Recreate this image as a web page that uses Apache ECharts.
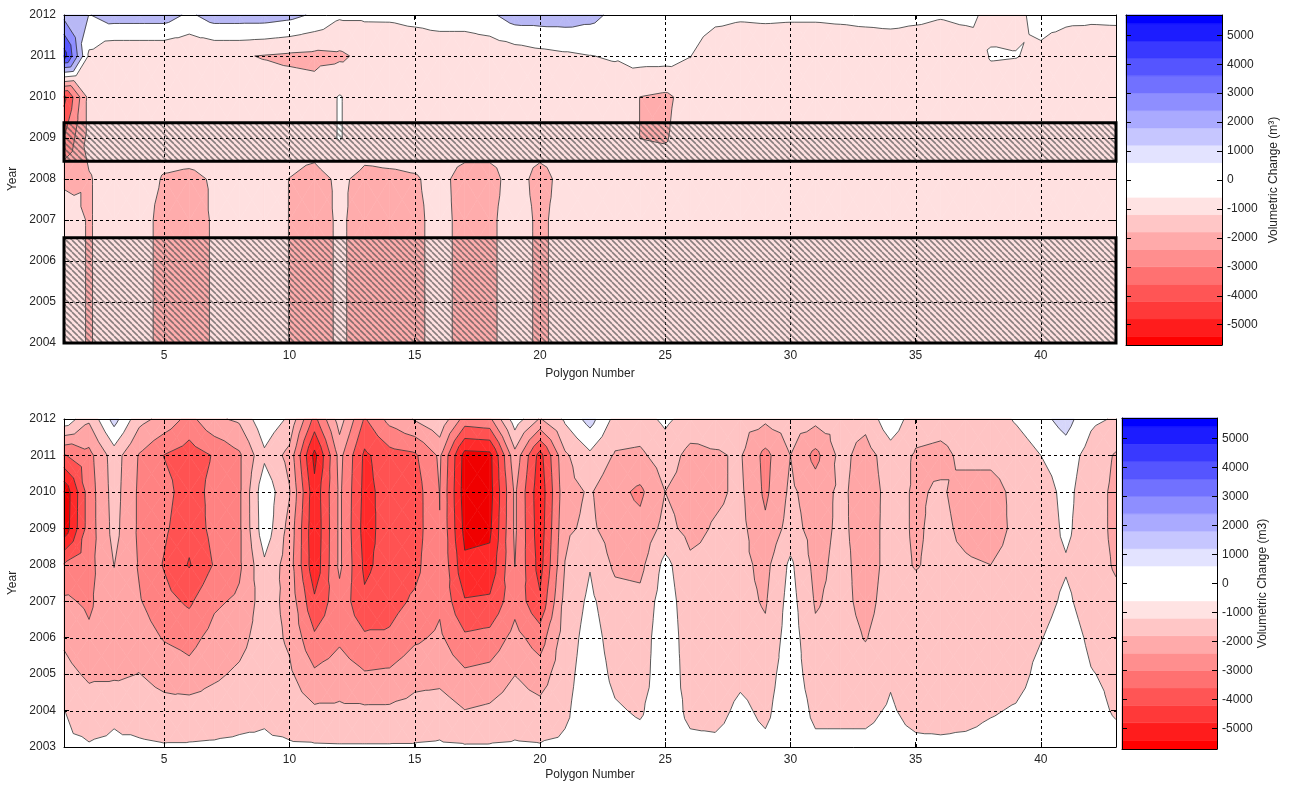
<!DOCTYPE html>
<html>
<head>
<meta charset="utf-8">
<script src="https://cdn.jsdelivr.net/npm/echarts@6/dist/echarts.min.js"></script>
<style>
  html, body { margin: 0; padding: 0; background: #ffffff; }
  #chart { width: 1290px; height: 787px; }
</style>
</head>
<body>
<div id="chart"></div>
<script>
// ---- Data -------------------------------------------------------------
const polygonNumbers = [1,2,3,4,5,6,7,8,9,10,11,12,13,14,15,16,17,18,19,20,21,22,23,24,25,26,27,28,29,30,31,32,33,34,35,36,37,38,39,40,41,42,43];

// Upper panel: volumetric change (m3) per polygon, one array per year
const upperYears = [2004, 2005, 2006, 2007, 2008, 2009, 2010, 2011, 2012];
const upper2004 = [-500,-1080,-500,-580,-1330,-1330,-920,-500,-500,-1020,-1500,-830,-1420,-1420,-1170,-750,-1250,-1170,-580,-1170,-670,-500,-480,-500,-520,-500,-490,-500,-510,-500,-480,-500,-500,-520,-500,-490,-500,-500,-510,-500,-480,-500,-500];
const upper2005 = [-500,-1080,-500,-580,-1330,-1330,-920,-500,-500,-1020,-1500,-830,-1420,-1420,-1170,-750,-1250,-1170,-580,-1170,-670,-500,-480,-500,-520,-500,-490,-500,-510,-500,-480,-500,-500,-520,-500,-490,-500,-500,-510,-500,-480,-500,-500];
const upper2006 = [-500,-1080,-500,-580,-1330,-1330,-920,-500,-500,-1020,-1500,-830,-1420,-1420,-1170,-750,-1250,-1170,-580,-1170,-670,-500,-480,-500,-520,-500,-490,-500,-510,-500,-480,-500,-500,-520,-500,-490,-500,-500,-510,-500,-480,-500,-500];
const upper2007 = [-500,-1080,-500,-580,-1330,-1330,-920,-500,-500,-1020,-1500,-830,-1420,-1420,-1170,-750,-1250,-1170,-580,-1170,-670,-500,-480,-500,-520,-500,-490,-500,-510,-500,-480,-500,-500,-520,-500,-490,-500,-500,-510,-500,-480,-500,-500];
const upper2008 = [-1170,-1080,-500,-580,-1080,-1170,-920,-500,-500,-1020,-1330,-830,-1250,-1170,-1080,-750,-1330,-1330,-580,-1330,-670,-500,-480,-500,-520,-500,-490,-500,-510,-500,-480,-500,-500,-520,-500,-490,-500,-500,-510,-500,-480,-500,-500];
const upper2009 = [-3000,-670,-500,-500,-500,-500,-500,-500,-500,-500,-500,60,-500,-500,-500,-500,-500,-500,-500,-500,-500,-500,-500,-1010,-1080,-500,-500,-500,-500,-500,-500,-500,-500,-500,-500,-500,-500,-500,-500,-500,-500,-500,-500];
const upper2010 = [-4300,-670,-500,-500,-500,-500,-500,-500,-500,-500,-580,60,-500,-500,-500,-500,-500,-500,-500,-500,-500,-500,-500,-1010,-1170,-670,-500,-500,-500,-500,-500,-500,-500,-500,-500,-500,-500,-500,-500,-500,-500,-500,-500];
const upper2011 = [4500,-170,-920,-920,-920,-920,-920,-920,-1050,-1170,-1250,-1170,-750,-750,-750,-750,-750,-750,-580,-330,-170,-20,80,380,380,30,-750,-750,-750,-750,-750,-750,-750,-750,-750,-750,-750,70,30,-170,-500,-670,-670];
const upper2012 = [1670,960,1500,1500,1500,800,1500,1500,1500,1300,850,150,150,160,310,500,500,800,1500,1500,1500,1300,750,670,670,580,310,150,200,160,160,220,310,390,250,90,260,-250,-200,280,210,200,230];

// Lower panel
const lowerYears = [2003, 2004, 2005, 2006, 2007, 2008, 2009, 2010, 2011, 2012];
const lower2003 = [-330,-420,-330,-330,-420,-420,-380,-330,-330,-380,-400,-420,-420,-420,-420,-380,-420,-420,-380,-420,-330,0,-100,-200,0,-300,-300,-100,-300,100,-300,-300,-300,-200,-300,-300,-200,-100,0,100,200,0,-200];
const lower2004 = [-490,-1000,-670,-1000,-1170,-1000,-1000,-830,-670,-1000,-1330,-1330,-1330,-1330,-1170,-1000,-1480,-1330,-1000,-1170,-670,100,-400,-600,0,-700,-800,-300,-700,100,-700,-700,-700,-400,-800,-900,-900,-600,-400,0,300,-200,-600];
const lower2005 = [-1170,-1670,-1670,-1480,-1830,-2170,-1670,-1330,-830,-1330,-2330,-2000,-2420,-2330,-1830,-1830,-2330,-2170,-1520,-2000,-830,0,-700,-900,100,-900,-1000,-700,-900,0,-1000,-1000,-1100,-600,-1000,-1000,-1000,-1000,-900,-200,200,-450,-700];
const lower2006 = [-1670,-2330,-1830,-2000,-2580,-2830,-2170,-1830,-1000,-1670,-3330,-2670,-3330,-3330,-2670,-2330,-3330,-3170,-2170,-3000,-1000,-100,-900,-1000,100,-1000,-1100,-1000,-1300,0,-1300,-1100,-1550,-1000,-1100,-1100,-1100,-1100,-1000,-550,0,-700,-1000];
const lower2007 = [-2330,-2670,-1750,-2420,-3170,-3670,-2670,-2330,-1000,-1830,-4330,-2830,-4330,-3900,-3330,-2670,-4420,-4330,-2830,-4330,-1170,-300,-1100,-1200,0,-1100,-1100,-1200,-1600,-100,-1600,-1200,-1800,-1100,-1200,-1200,-1200,-1200,-1100,-900,-300,-1000,-1300];
const lower2008 = [-3420,-2830,-1480,-2580,-3580,-4580,-3420,-2670,-670,-2000,-5200,-2300,-4700,-4100,-3830,-2520,-5300,-5200,-2480,-4900,-1480,-550,-1700,-1800,-200,-1300,-1200,-1200,-1800,-300,-1800,-1200,-1900,-1200,-1550,-1300,-1400,-1500,-1200,-1000,-600,-1100,-1600];
const lower2009 = [-6200,-3000,-1170,-2670,-3330,-4170,-3170,-2670,130,-1830,-5300,-2300,-4900,-4000,-4000,-2520,-5800,-5700,-2330,-5100,-1670,-1300,-2000,-2200,-1200,-1800,-1400,-1200,-2300,-1100,-1900,-1300,-1900,-1200,-1600,-1300,-1700,-1900,-1300,-1100,-300,-1100,-1700];
const lower2010 = [-6300,-3000,-1080,-2670,-3170,-4000,-3170,-2670,210,-1420,-5200,-2300,-4800,-4100,-4000,-2480,-6000,-5900,-2330,-5200,-1830,-1400,-2200,-2700,-1500,-1900,-1700,-1300,-2700,-1300,-2000,-1300,-1950,-1200,-1600,-1400,-1800,-1800,-1300,-1000,-200,-1100,-1700];
const lower2011 = [-3580,-2830,-1000,-2580,-3530,-4000,-3420,-2670,-700,-1830,-5800,-2170,-4700,-3900,-3670,-2330,-5900,-5800,-1830,-4900,-1670,-700,-1600,-1700,-1000,-1800,-1600,-1400,-2800,-1500,-2800,-1200,-1900,-1000,-1600,-1700,-1300,-1300,-1100,-500,0,-900,-1600];
const lower2012 = [250,-1330,900,-1170,-1830,-2830,-1670,-1330,250,-670,-3800,-1000,-3600,-2170,-1420,-670,-2900,-2700,80,-1580,-330,900,-800,-900,-300,-900,-1000,-1100,-1300,-1000,-1200,-1100,-1200,200,-1100,-1200,-1100,-1000,-400,200,900,-300,-600];

// Year spans without survey data (upper panel)
const hatchSpans = [[2004, 2006.57], [2008.43, 2009.37]];

// Axis ticks, contour levels and colours
const polygonTicks = [5, 10, 15, 20, 25, 30, 35, 40];
const colorbarTicks = [-5000, -4000, -3000, -2000, -1000, 0, 1000, 2000, 3000, 4000, 5000];
const colorLimits = [-5700, 5700];
const colormapEdges = [-5400, -4800, -4200, -3600, -3000, -2400, -1800, -1200, -600, 600, 1200, 1800, 2400, 3000, 3600, 4200, 4800, 5400];
const colormapColors = ['#ff0000','#ff1c1c','#ff3939','#ff5555','#ff7171','#ff8e8e','#ffaaaa','#ffc6c6','#ffe3e3','#ffffff',
                        '#e3e3ff','#c6c6ff','#aaaaff','#8e8eff','#7171ff','#5555ff','#3939ff','#1c1cff','#0000ff'];

// Contour levels of each panel and the fill of the regions between them (lowest first)
const upperLevels = [-5000, -4000, -3000, -2000, -1000, 0, 1000, 2000, 3000, 4000, 5000];
const upperFills  = ['#ff0000','#ff1c1c','#ff5555','#ff8e8e','#ffacac','#ffe0e0','#ffffff','#b8b8f5','#8e8eff','#5555ff','#1c1cff','#0000ff'];
const lowerLevels = [-5500, -4500, -3500, -2500, -1500, -500, 500, 1500, 2500, 3500, 4500, 5500];
const lowerFills  = ['#f00000','#ff2a2a','#ff5252','#ff8282','#ffa6a6','#ffc4c4','#ffffff','#d6d6fa','#b4b4f4','#8e8eff','#5555ff','#1c1cff','#0000ff'];

const upperMatrix = [upper2004, upper2005, upper2006, upper2007, upper2008, upper2009, upper2010, upper2011, upper2012];
const lowerMatrix = [lower2003, lower2004, lower2005, lower2006, lower2007, lower2008, lower2009, lower2010, lower2011, lower2012];

// ---- Contouring helpers ----------------------------------------------
function bandOf(levels, v) {
  let b = 0;
  while (b < levels.length && v >= levels[b]) b++;
  return b;
}
function clipPoly(pts, level, keepAbove) {
  const out = [];
  const n = pts.length;
  for (let k = 0; k < n; k++) {
    const a = pts[k], c = pts[(k + 1) % n];
    const ina = keepAbove ? a[2] >= level : a[2] <= level;
    const inc = keepAbove ? c[2] >= level : c[2] <= level;
    if (ina) out.push(a);
    if (ina !== inc) {
      const t = (level - a[2]) / (c[2] - a[2]);
      out.push([a[0] + t * (c[0] - a[0]), a[1] + t * (c[1] - a[1]), level]);
    }
  }
  return out;
}
function cellTriangles(api, matrix, xs, ys, i, j) {
  const P = (a, b) => { const p = api.coord([xs[a], ys[b]]); return [p[0], p[1], matrix[b][a]]; };
  const A = P(i, j), B = P(i + 1, j), C = P(i + 1, j + 1), D = P(i, j + 1);
  const M = [(A[0] + B[0] + C[0] + D[0]) / 4, (A[1] + B[1] + C[1] + D[1]) / 4, (A[2] + B[2] + C[2] + D[2]) / 4];
  return [[A, B, M], [B, C, M], [C, D, M], [D, A, M]];
}
function fillRenderer(matrix, xs, ys, levels, fills) {
  return function (params, api) {
    const i = api.value(2), j = api.value(3);
    const children = [];
    for (const tri of cellTriangles(api, matrix, xs, ys, i, j)) {
      const vs = tri.map(p => p[2]);
      const b0 = bandOf(levels, Math.min(...vs)), b1 = bandOf(levels, Math.max(...vs));
      for (let b = b0; b <= b1; b++) {
        let poly = tri;
        if (b > 0) poly = clipPoly(poly, levels[b - 1], true);
        if (b < levels.length && poly.length) poly = clipPoly(poly, levels[b], false);
        if (poly.length >= 3) {
          children.push({
            type: 'polygon',
            shape: { points: poly.map(p => [p[0], p[1]]) },
            style: { fill: fills[b], stroke: fills[b], lineWidth: 0.6 }
          });
        }
      }
    }
    return { type: 'group', children };
  };
}
function lineRenderer(matrix, xs, ys, levels) {
  return function (params, api) {
    const i = api.value(2), j = api.value(3);
    const children = [];
    for (const tri of cellTriangles(api, matrix, xs, ys, i, j)) {
      const vs = tri.map(p => p[2]);
      const lo = Math.min(...vs), hi = Math.max(...vs);
      for (const level of levels) {
        if (level <= lo || level > hi) continue;
        const pts = [];
        for (let k = 0; k < 3; k++) {
          const a = tri[k], c = tri[(k + 1) % 3];
          if ((a[2] >= level) !== (c[2] >= level)) {
            const t = (level - a[2]) / (c[2] - a[2]);
            pts.push([a[0] + t * (c[0] - a[0]), a[1] + t * (c[1] - a[1])]);
          }
        }
        if (pts.length === 2) {
          children.push({
            type: 'line',
            shape: { x1: pts[0][0], y1: pts[0][1], x2: pts[1][0], y2: pts[1][1] },
            style: { stroke: '#303030', lineWidth: 0.8 }
          });
        }
      }
    }
    return { type: 'group', children };
  };
}
function cellData(xs, ys) {
  const d = [];
  for (let j = 0; j < ys.length - 1; j++)
    for (let i = 0; i < xs.length - 1; i++) d.push([xs[i], ys[j], i, j]);
  return d;
}

// Diagonal hatch tile
function hatchTile() {
  const c = document.createElement('canvas');
  c.width = 6; c.height = 6;
  const g = c.getContext('2d');
  g.strokeStyle = 'rgba(80,80,80,0.68)';
  g.lineWidth = 1.6;
  for (const k of [-6, 0, 6]) {
    g.beginPath(); g.moveTo(k, 0); g.lineTo(k + 6, 6); g.stroke();
  }
  return c;
}
const hatchImage = hatchTile();

// ---- Layout ----------------------------------------------------------
const FONT = 'Liberation Sans, Arial, sans-serif';
const TXT = '#262626';
const xMin = polygonNumbers[0], xMax = polygonNumbers[polygonNumbers.length - 1];
const plain = v => String(v);

const grids = [
  { left: 64, top: 15, width: 1052, height: 328 },   // upper contour
  { left: 1126, top: 15, width: 96, height: 330 },   // upper colorbar
  { left: 64, top: 419, width: 1052, height: 328 },  // lower contour
  { left: 1122, top: 418, width: 95, height: 331 }   // lower colorbar
].map(g => Object.assign({ outerBoundsMode: 'none', containLabel: false }, g));

const frameLine = { show: true, onZero: false, lineStyle: { color: '#000', width: 1 } };
const inTick = (vals) => Object.assign({ show: true, inside: true, length: 5, lineStyle: { color: '#000' } }, vals ? { customValues: vals } : {});
const labelStyle = { fontFamily: FONT, fontSize: 12, color: TXT, formatter: plain };

function polygonAxis(gridIndex, position, labels, name, nameGap) {
  return {
    type: 'value', gridIndex, position, min: xMin, max: xMax, z: 10,
    axisLine: frameLine, splitLine: { show: false },
    axisTick: inTick(polygonTicks),
    axisLabel: labels ? Object.assign({ customValues: polygonTicks, margin: 7 }, labelStyle) : { show: false },
    name: name || '', nameLocation: 'middle', nameGap: nameGap || 0,
    nameTextStyle: { fontFamily: FONT, fontSize: 12, color: TXT }
  };
}
function yearAxis(gridIndex, position, labels, years) {
  return {
    type: 'value', gridIndex, position, min: years[0], max: years[years.length - 1], interval: 1, z: 10,
    axisLine: frameLine, splitLine: { show: false },
    axisTick: inTick(),
    axisLabel: labels ? Object.assign({ margin: 8 }, labelStyle) : { show: false },
    name: labels ? 'Year' : '', nameLocation: 'middle', nameRotate: 90, nameGap: 44,
    nameTextStyle: { fontFamily: FONT, fontSize: 12, color: TXT }
  };
}
function barXAxis(gridIndex, position) {
  return {
    type: 'value', gridIndex, position, min: 0, max: 1, z: 10,
    axisLine: frameLine, axisTick: { show: false }, axisLabel: { show: false }, splitLine: { show: false }
  };
}
function barYAxis(gridIndex, position, labels, name, nameGap) {
  return {
    type: 'value', gridIndex, position, min: colorLimits[0], max: colorLimits[1], z: 10,
    axisLine: frameLine, splitLine: { show: false },
    axisTick: inTick(colorbarTicks),
    axisLabel: labels ? Object.assign({ customValues: colorbarTicks, margin: 5 }, labelStyle) : { show: false },
    name: name || '', nameLocation: 'middle', nameRotate: 90, nameGap: nameGap || 0,
    nameTextStyle: { fontFamily: FONT, fontSize: 12, color: TXT }
  };
}

const xAxes = [
  polygonAxis(0, 'bottom', true, 'Polygon Number', 25),
  polygonAxis(0, 'top', false),
  barXAxis(1, 'bottom'), barXAxis(1, 'top'),
  polygonAxis(2, 'bottom', true, 'Polygon Number', 22),
  polygonAxis(2, 'top', false),
  barXAxis(3, 'bottom'), barXAxis(3, 'top')
];
const yAxes = [
  yearAxis(0, 'left', true, upperYears),
  yearAxis(0, 'right', false, upperYears),
  barYAxis(1, 'right', true, 'Volumetric Change (m\u00b3)', 46),
  barYAxis(1, 'left', false),
  yearAxis(2, 'left', true, lowerYears),
  yearAxis(2, 'right', false, lowerYears),
  barYAxis(3, 'right', true, 'Volumetric Change (m3)', 38),
  barYAxis(3, 'left', false)
];

// ---- Series ----------------------------------------------------------
function contourSeries(axisIdx, matrix, years, levels, fills) {
  const data = cellData(polygonNumbers, years);
  return [
    { type: 'custom', xAxisIndex: axisIdx, yAxisIndex: axisIdx, data, encode: { x: 0, y: 1 },
      renderItem: fillRenderer(matrix, polygonNumbers, years, levels, fills), silent: true, z: 1, animation: false },
    { type: 'custom', xAxisIndex: axisIdx, yAxisIndex: axisIdx, data, encode: { x: 0, y: 1 },
      renderItem: lineRenderer(matrix, polygonNumbers, years, levels), silent: true, z: 2, animation: false }
  ];
}
function gridlineSeries(axisIdx, years) {
  const yLo = years[0], yHi = years[years.length - 1];
  const dash = { stroke: '#000', lineWidth: 1, lineDash: [3, 3] };
  return [
    { type: 'custom', xAxisIndex: axisIdx, yAxisIndex: axisIdx, silent: true, z: 3, animation: false,
      data: polygonTicks.map(v => [v, yLo]), encode: { x: 0, y: 1 },
      renderItem: (p, api) => {
        const a = api.coord([api.value(0), yLo]), b = api.coord([api.value(0), yHi]);
        const x = Math.round(a[0]) + 0.5;
        return { type: 'line', shape: { x1: x, y1: a[1], x2: x, y2: b[1] }, style: dash };
      } },
    { type: 'custom', xAxisIndex: axisIdx, yAxisIndex: axisIdx, silent: true, z: 3, animation: false,
      data: years.slice(1, -1).map(v => [xMin, v]), encode: { x: 0, y: 1 },
      renderItem: (p, api) => {
        const a = api.coord([xMin, api.value(1)]), b = api.coord([xMax, api.value(1)]);
        const y = Math.round(a[1]) + 0.5;
        return { type: 'line', shape: { x1: a[0], y1: y, x2: b[0], y2: y }, style: dash };
      } }
  ];
}
function colorbarSeries(axisIdx) {
  const edges = [colorLimits[0]].concat(colormapEdges, [colorLimits[1]]);
  const data = [];
  for (let k = 0; k < edges.length - 1; k++) data.push([0, edges[k], 1, edges[k + 1], k]);
  return {
    type: 'custom', xAxisIndex: axisIdx, yAxisIndex: axisIdx, silent: true, z: 1, animation: false,
    data, encode: { x: [0, 2], y: [1, 3] },
    renderItem: (p, api) => {
      const a = api.coord([0, api.value(1)]), b = api.coord([1, api.value(3)]);
      const col = colormapColors[api.value(4)];
      return { type: 'rect', shape: { x: a[0], y: b[1], width: b[0] - a[0], height: a[1] - b[1] },
               style: { fill: col, stroke: col, lineWidth: 0.5 } };
    }
  };
}
const hatchSeries = {
  type: 'custom', xAxisIndex: 0, yAxisIndex: 0, silent: true, z: 4, animation: false,
  data: hatchSpans.map(s => [xMin, s[0], xMax, s[1]]), encode: { x: [0, 2], y: [1, 3] },
  renderItem: (p, api) => {
    const a = api.coord([api.value(0), api.value(1)]), b = api.coord([api.value(2), api.value(3)]);
    return { type: 'rect', shape: { x: a[0], y: b[1], width: b[0] - a[0], height: a[1] - b[1] },
             style: { fill: { image: hatchImage, repeat: 'repeat' }, stroke: '#000', lineWidth: 3 } };
  }
};

const option = {
  backgroundColor: '#ffffff',
  animation: false,
  grid: grids,
  xAxis: xAxes,
  yAxis: yAxes,
  series: [].concat(
    contourSeries(0, upperMatrix, upperYears, upperLevels, upperFills),
    gridlineSeries(0, upperYears),
    [hatchSeries],
    [colorbarSeries(2)],
    contourSeries(4, lowerMatrix, lowerYears, lowerLevels, lowerFills),
    gridlineSeries(4, lowerYears),
    [colorbarSeries(6)]
  )
};

const chart = echarts.init(document.getElementById('chart'), null, { renderer: 'canvas' });
chart.setOption(option);
</script>
</body>
</html>
